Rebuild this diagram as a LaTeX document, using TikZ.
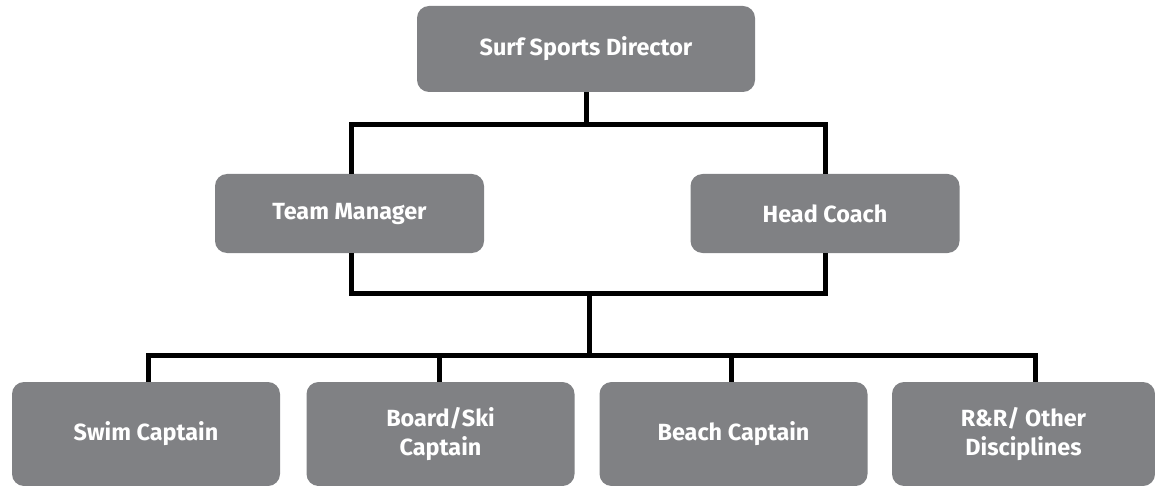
\documentclass[tikz,border=0pt]{standalone}
\usepackage{fontspec}
\setmainfont{Fira Sans}
\usepackage{tikz}
\usetikzlibrary{positioning}
\definecolor{boxgray}{RGB}{128,129,132}
\tikzset{
  rolebox/.style ={draw=none, fill=boxgray, rounded corners=6pt,
                   text=white, align=center, inner sep=2pt,
                   font=\fontsize{11.7}{14.5}\selectfont\bfseries},
  headbox/.style ={rolebox, minimum width=169pt, minimum height=43pt},
  midbox/.style  ={rolebox, minimum width=134.5pt, minimum height=39.5pt},
  capbox/.style  ={rolebox, minimum width=134pt, minimum height=52pt},
  link/.style    ={line width=2.5pt, black},
}

\begin{document}
\begin{tikzpicture}[x=0.5pt,y=-0.5pt]
  \useasboundingbox (0,0) rectangle (1155,486);
  % ---- top and second level
  \node[headbox] (director) at (586,49)    {Surf Sports Director};
  \node[midbox]  (manager)  at (349.5,213.5) {Team Manager};
  \node[midbox]  (coach)    at (825,213.5) {Head Coach};
  % ---- captains
  \node[capbox] (swim)  at (146,434)    {Swim Captain};
  \node[capbox] (board) at (440.5,434)  {Board/Ski\\Captain};
  \node[capbox] (beach) at (733.5,434)  {Beach Captain};
  \node[capbox, minimum width=131.5pt] (other) at (1023.5,434) {R\&R/ Other\\Disciplines};
  % ---- junctions
  \coordinate (jtop) at (586,125);
  \coordinate (jmid) at (589,293);
  \coordinate (jbot) at (589,355);
  \draw[link] (director.south) -- (jtop);
  \draw[link] ([xshift=0.75pt]manager.north) |- (jtop) -| (coach.north);
  \draw[link] ([xshift=0.75pt]manager.south) |- (jmid) -| (coach.south);
  \draw[link] (jmid) -- (jbot);
  \draw[link] ([xshift=1pt]swim.north) |- (jbot) -| ([xshift=5.75pt]other.north);
  \draw[link] ([xshift=-0.75pt]board.north) -- ([xshift=-0.75pt]board.north |- jbot);
  \draw[link] ([xshift=-1.25pt]beach.north) -- ([xshift=-1.25pt]beach.north |- jbot);
\end{tikzpicture}
\end{document}
